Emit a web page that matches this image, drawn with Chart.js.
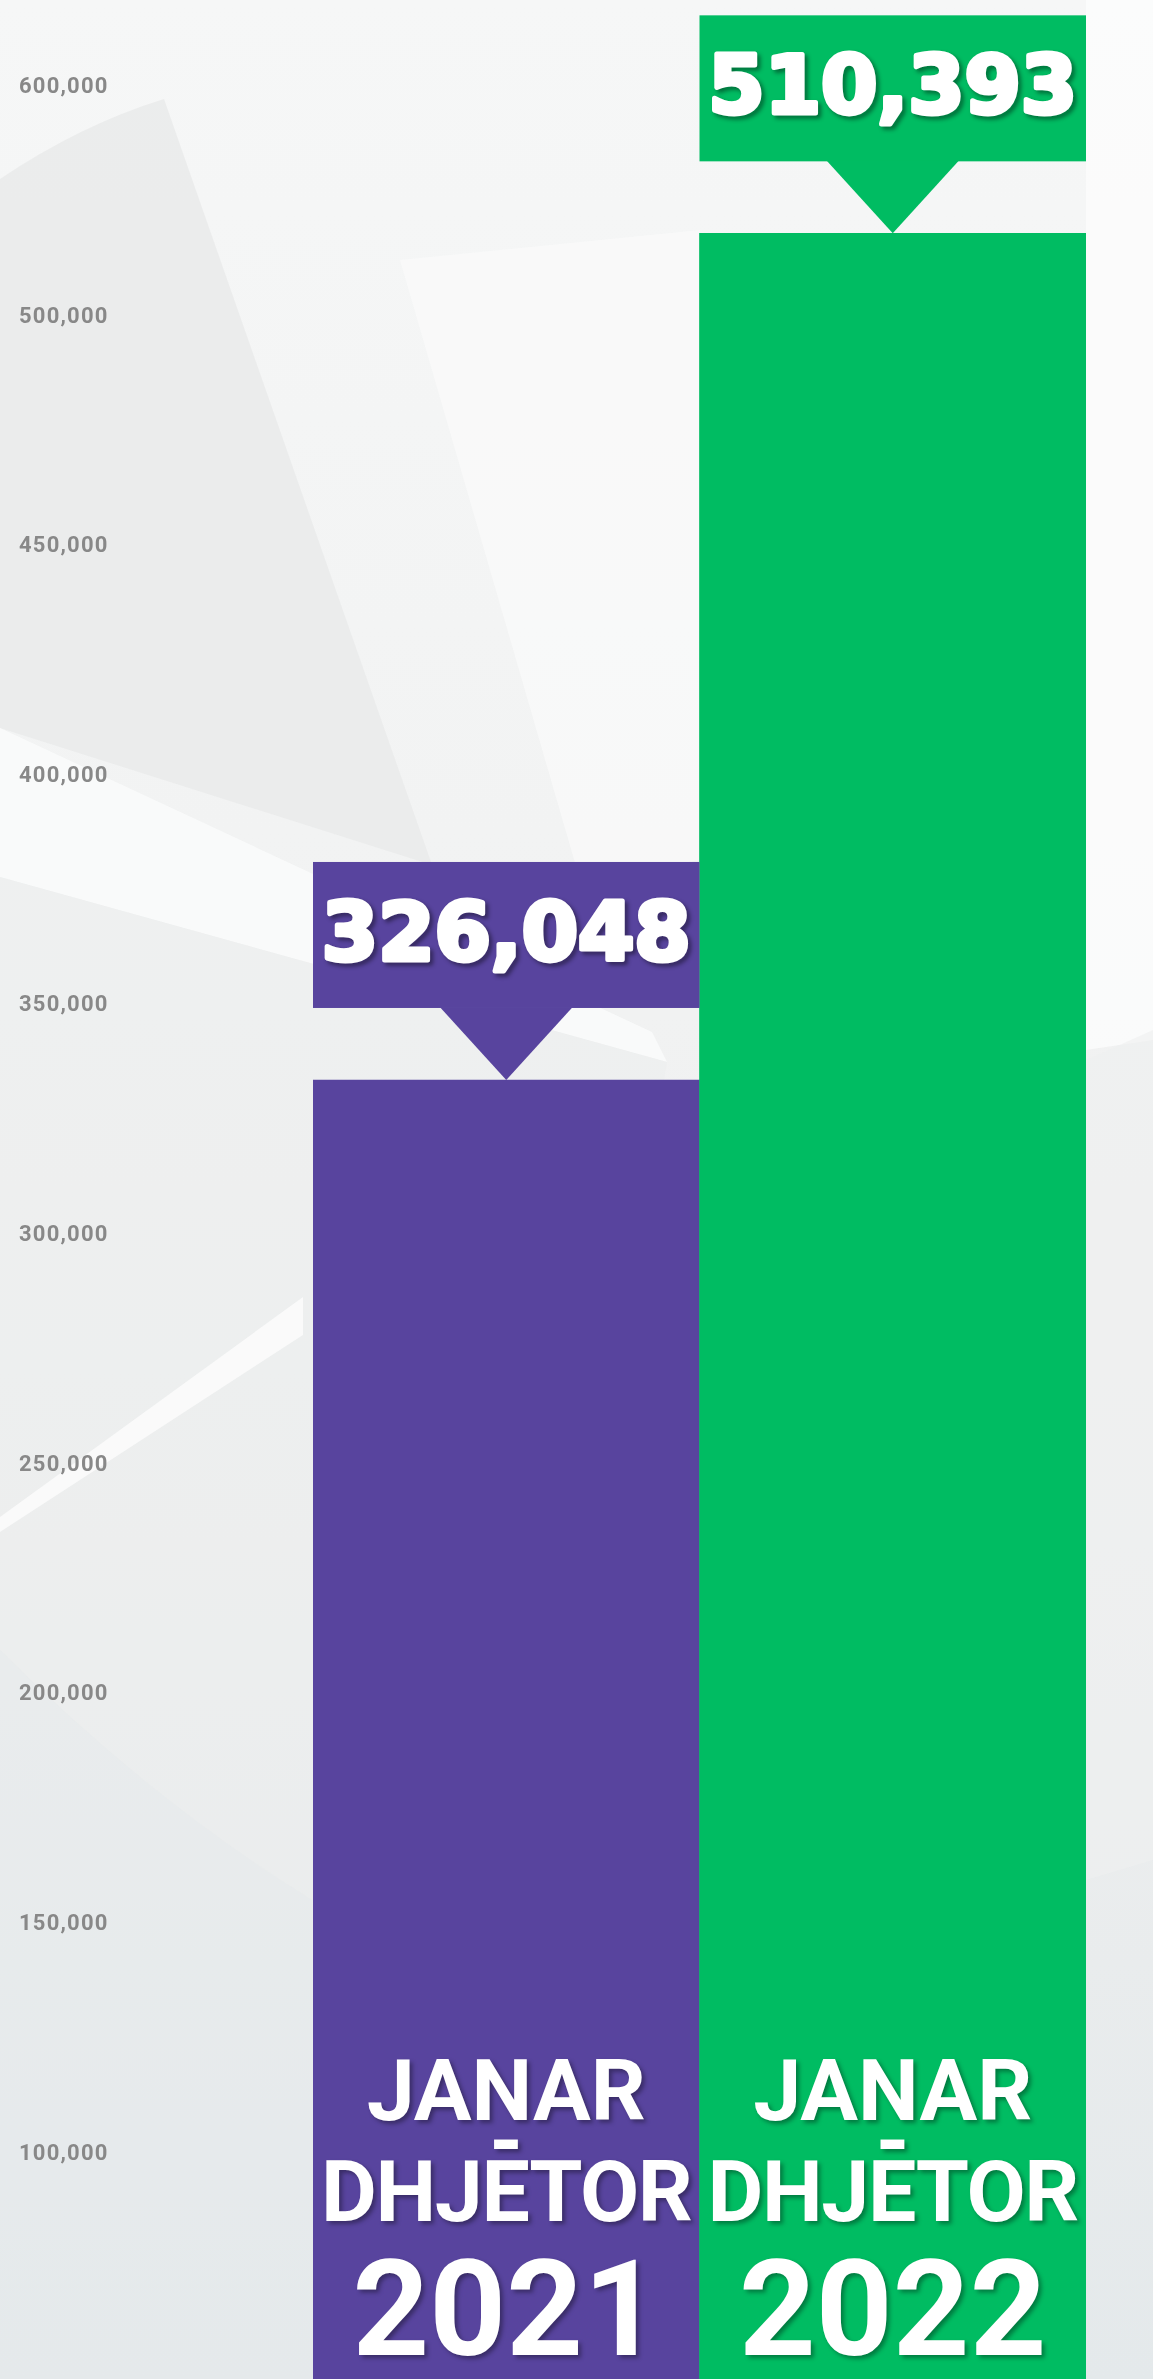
<!DOCTYPE html>
<html>
<head>
<meta charset="utf-8">
<script src="https://cdn.jsdelivr.net/npm/chart.js@4.4.1/dist/chart.umd.min.js"></script>
<style>
html,body{margin:0;padding:0;width:1153px;height:2379px;overflow:hidden;}
body{position:relative;background:linear-gradient(180deg,#f6f7f7 0%,#f2f3f3 35%,#eeefef 65%,#e4e9eb 100%);}
#bg{position:absolute;left:0;top:0;}
#wrap{position:absolute;left:0;top:0;width:1153px;height:2379px;}
</style>
</head>
<body>
<svg id="bg" width="1153" height="2379" xmlns="http://www.w3.org/2000/svg">
  <path d="M0,179 Q80,125 164,99 L432,865 L0,728 Z" fill="#e9eaea" opacity="0.8"/>
  <path d="M0,728 L652,1032 L667,1062 L0,877 Z" fill="#fafbfb" opacity="0.9"/>
  <path d="M0,877 L667,1062 L520,1900 L0,1900 Z" fill="#eceded" opacity="0.5"/>
  <path d="M400,260 L700,230 L700,860 L580,880 Z" fill="#fbfcfc" opacity="0.6"/>
  <path d="M0,1517 L303,1297 L303,1335 L0,1532 Z" fill="#fbfbfb" opacity="0.9"/>
  <path d="M1086,0 L1153,0 L1153,1040 L1086,1050 Z" fill="#fcfdfd" opacity="0.8"/>
  <path d="M1086,1060 L1153,1030 L1153,1860 L1086,1880 Z" fill="#eef0f0" opacity="0.6"/>
  <path d="M0,1650 Q150,1800 312,1900 L312,2379 L0,2379 Z" fill="#e6eaec" opacity="0.5"/>
</svg>
<div id="wrap"><canvas id="c" width="1153" height="2379"></canvas></div>
<script>
// ---- data ----
const categories = ['2021', '2022'];
const periodLines = [['JANAR', '-', 'DHJETOR'], ['JANAR', '-', 'DHJETOR']];
const values = [326048, 510393];
const valueLabels = ['326,048', '510,393'];
const barColors = ['#58449e', '#00bc62'];
const tickValues = [100000, 150000, 200000, 250000, 300000, 350000, 400000, 450000, 500000, 550000];
const tickLabels = ['100,000', '150,000', '200,000', '250,000', '300,000', '350,000', '400,000', '450,000', '500,000', '600,000'];

const letterSpacingPlugin = {
  id: 'lsp',
  beforeDraw(chart) { chart.ctx.letterSpacing = '1.2px'; },
  beforeDatasetsDraw(chart) { chart.ctx.letterSpacing = '0px'; }
};

const calloutPlugin = {
  id: 'callouts',
  afterDatasetsDraw(chart) {
    const ctx = chart.ctx;
    const meta = chart.getDatasetMeta(0);
    const base = chart.chartArea.bottom;
    meta.data.forEach((bar, i) => {
      const x = bar.x, top = bar.y, w = bar.width;
      ctx.save();
      ctx.letterSpacing = '0px';
      ctx.fillStyle = barColors[i];
      ctx.fillRect(x - w / 2, top - 218, w, 146);
      ctx.beginPath();
      ctx.moveTo(x - 66, top - 72.5);
      ctx.lineTo(x + 66, top - 72.5);
      ctx.lineTo(x, top);
      ctx.closePath();
      ctx.fill();

      // value label
      ctx.textAlign = 'center';
      ctx.textBaseline = 'alphabetic';
      ctx.font = 'bold 81px "DejaVu Sans"';
      ctx.lineJoin = 'round';
      ctx.shadowColor = 'rgba(0,0,0,0.45)';
      ctx.shadowOffsetX = 3;
      ctx.shadowOffsetY = 3;
      ctx.shadowBlur = 4;
      ctx.fillStyle = '#ffffff';
      ctx.strokeStyle = '#ffffff';
      ctx.lineWidth = 5;
      ctx.strokeText(valueLabels[i], x, top - 120);
      ctx.shadowColor = 'transparent';
      ctx.fillText(valueLabels[i], x, top - 120);

      // period label inside bar
      ctx.shadowColor = 'rgba(0,0,0,0.35)';
      ctx.shadowOffsetX = 3;
      ctx.shadowOffsetY = 3;
      ctx.shadowBlur = 4;
      ctx.font = 'bold 86px Roboto';
      ctx.fillText(periodLines[i][0], x, base - 259);
      ctx.fillText(periodLines[i][1], x, base - 209);
      ctx.letterSpacing = '-1.4px';
      ctx.fillText(periodLines[i][2], x, base - 158);
      ctx.letterSpacing = '0px';
      ctx.font = 'bold 134px Roboto';
      ctx.fillText(categories[i], x, base - 24);
      ctx.restore();
    });
  }
};

new Chart(document.getElementById('c'), {
  type: 'bar',
  data: {
    labels: categories,
    datasets: [{
      data: values,
      backgroundColor: barColors,
      borderWidth: 0,
      barPercentage: 1,
      categoryPercentage: 1
    }]
  },
  options: {
    responsive: false,
    devicePixelRatio: 1,
    animation: false,
    layout: { padding: { left: 19, right: 67, top: 0, bottom: 0 } },
    plugins: { legend: { display: false }, tooltip: { enabled: false } },
    scales: {
      x: { display: false, offset: true, grid: { display: false } },
      y: {
        type: 'linear',
        position: 'left',
        min: 43200,
        max: 561200,
        grid: { display: false },
        border: { display: false },
        ticks: {
          color: '#888888',
          font: { family: 'Roboto', weight: 'bold', size: 22 },
          crossAlign: 'far',
          padding: 0,
          labelOffset: 36,
          autoSkip: false,
          callback: (v, i) => tickLabels[i]
        },
        afterBuildTicks: (s) => { s.ticks = tickValues.map(v => ({ value: v })); },
        afterFit: (s) => { s.width = 294; s.paddingTop = 0; s.paddingBottom = 0; }
      }
    }
  },
  plugins: [letterSpacingPlugin, calloutPlugin]
});
</script>
</body>
</html>
